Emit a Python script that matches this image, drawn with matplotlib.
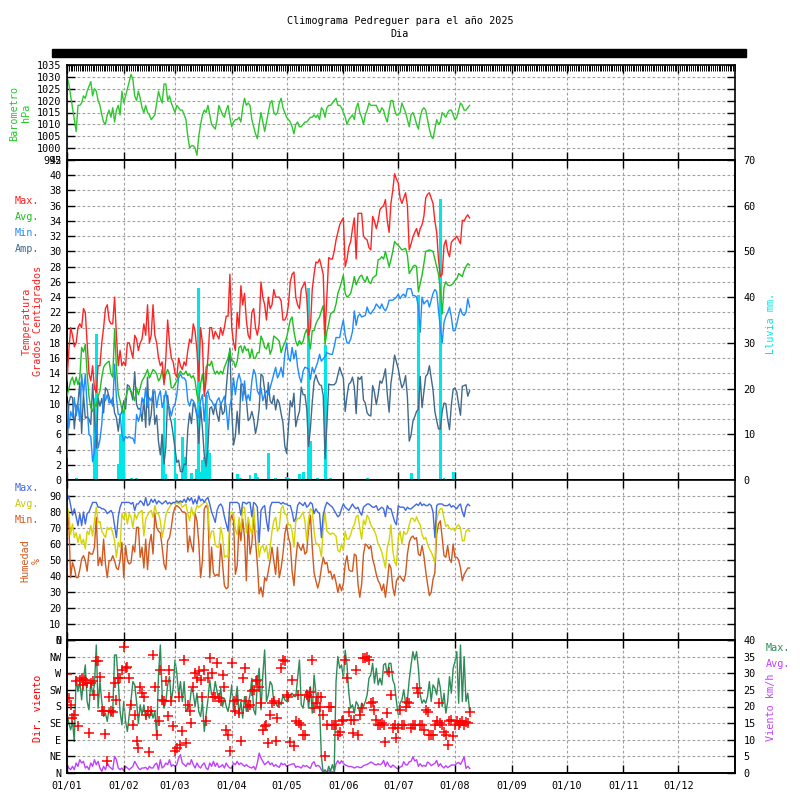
import matplotlib
matplotlib.use("Agg")
import matplotlib.pyplot as plt
from matplotlib.patches import Rectangle
import numpy as np

plt.rcParams['font.family'] = ['DejaVu Sans Mono']
plt.rcParams['font.size'] = 7.3
plt.rcParams['xtick.direction'] = 'in'
plt.rcParams['ytick.direction'] = 'in'

# daily values, 1 Jan .. 9 Aug 2025
pressure = [
    1030, 1027, 1022, 1017, 1012, 1007, 1018, 1018, 1019, 1022, 1021, 1024, 1026, 1028, 1022, 1025,
    1024, 1020, 1018, 1014, 1011, 1010, 1014, 1016, 1013, 1017, 1011, 1016, 1018, 1014, 1024,
    1019, 1022, 1025, 1028, 1031, 1029, 1022, 1020, 1024, 1021, 1017, 1015, 1018, 1015, 1014, 1012,
    1013, 1014, 1019, 1024, 1021, 1019, 1027, 1027, 1020, 1022, 1019, 1017,
    1015, 1018, 1017, 1016, 1016, 1014, 1012, 1005, 1000, 1001, 1001, 1000, 997, 1005, 1010, 1014,
    1016, 1015, 1018, 1014, 1010, 1009, 1008, 1012, 1018, 1016, 1014, 1013, 1016, 1018, 1013,
    1009, 1011, 1012, 1012, 1013, 1011, 1017, 1021, 1018, 1019, 1018, 1012, 1009, 1006, 1004, 1010,
    1015, 1011, 1007, 1011, 1015, 1019, 1020, 1015, 1014, 1015, 1019, 1021, 1017, 1015,
    1013, 1012, 1011, 1009, 1006, 1010, 1011, 1009, 1009, 1010, 1011, 1011, 1012, 1013, 1013, 1014,
    1013, 1014, 1012, 1017, 1016, 1013, 1017, 1018, 1018, 1019, 1020, 1021, 1018, 1018, 1017,
    1015, 1013, 1010, 1012, 1013, 1014, 1012, 1017, 1019, 1015, 1013, 1010, 1014, 1016, 1019, 1018,
    1018, 1018, 1018, 1016, 1015, 1017, 1016, 1013, 1011, 1016, 1020, 1020, 1016, 1014,
    1014, 1015, 1019, 1017, 1015, 1012, 1009, 1014, 1015, 1013, 1010, 1008, 1013, 1016, 1017, 1016,
    1012, 1008, 1005, 1004, 1008, 1012, 1010, 1011, 1015, 1014, 1013, 1015, 1016, 1016, 1014,
    1012, 1013, 1016, 1019, 1018, 1016, 1016, 1017, 1018,
]

temp_max = [
    13, 17, 20, 19, 17.5, 18, 20, 20.5, 20, 22.5,
    22, 18, 14, 13, 15, 12, 11.5, 15, 15, 18,
    20, 22.5, 23, 21, 20.5, 20.5, 24, 19, 15, 17,
    15, 15.5, 15, 18, 18, 17, 16, 19, 18.5, 17,
    18, 18.5, 20.5, 19, 23, 18, 19, 23, 19, 18,
    16, 15, 15.5, 12.5, 16, 21, 18, 16, 15.5, 14,
    13.5, 16, 15, 14.5, 15.5, 15, 17, 18.5, 18, 20.5,
    19.5, 17, 13, 20, 18, 11, 13, 16, 20, 20,
    18.5, 19.5, 19, 18.5, 20, 19, 20, 21.5, 21.5, 27,
    20, 18, 17, 22, 20, 25.5, 23, 24.5, 21, 19,
    18.5, 22, 22.5, 20, 19, 20.5, 26, 24, 23, 21,
    24, 22.5, 23, 25, 24, 24, 24, 23.5, 21, 21,
    21.5, 23, 26, 27, 27.3, 24, 23, 22.5, 25, 25.5,
    26, 24, 19, 20, 25, 27, 28.6, 28.5, 29, 28,
    27, 19, 24, 29.2, 29, 29, 30, 31.5, 32.5, 33.5,
    34, 34.4, 28, 29, 30.6, 31.3, 33, 34.4, 29, 35,
    35, 35, 32, 31.7, 31.5, 30.5, 30.2, 34.6, 34, 33,
    34, 35.5, 35.8, 36, 36.8, 34, 32.5, 36.3, 38, 40.2,
    39.5, 39, 37, 36.3, 37, 37.7, 36, 30.2, 31, 31.9,
    32.5, 33, 32, 33, 33.5, 34.6, 37, 37.5, 37.7, 37,
    36.3, 34, 32.5, 28.9, 26.7, 27, 30.8, 31.5, 30, 29.3,
    31.2, 31.5, 31.7, 32, 31.5, 31, 34.1, 34, 34.5, 34.8, 34.4,
]

temp_avg = [
    11, 12, 13, 13.5, 12.5, 13.5, 12.5, 13.5, 17.4, 16.8,
    17.8, 14, 11, 9.5, 9, 10, 9.7, 11, 11.7, 13.5,
    14.8, 15.2, 15.4, 15.6, 14, 13.5, 19.8, 14.8, 11.3, 10.4,
    9.3, 8.8, 10.6, 11.7, 12.1, 11.7, 11.2, 10.4, 12.1, 11.2,
    12.1, 13, 13.4, 13.9, 14.5, 13.4, 13.9, 14.5, 14.3, 13.9,
    13, 13.4, 14.5, 12.8, 13.9, 14.5, 13.9, 12.1, 12.1, 12.6,
    13, 13.9, 14.3, 13.9, 13.9, 14.3, 13.7, 13.9, 13.4, 13.7,
    13, 11.2, 10.4, 12.6, 13.9, 11.7, 14.8, 15.2, 15, 15.6,
    14.5, 13.9, 14.3, 13.9, 14.3, 13.9, 14.8, 15.4, 16, 17,
    15.6, 15.6, 14.8, 15.6, 17.4, 17.6, 16.7, 17.6, 17, 17.2,
    16, 17.2, 16, 16, 16.7, 16.7, 18.9, 18.3, 17.4, 17.2,
    18, 16.5, 17.2, 18.9, 18.7, 18.5, 18.2, 16.7, 17.5, 18,
    18.7, 19.8, 21, 21.4, 19.5, 18.2, 17.6, 18.3, 17.8, 18.2,
    19.2, 19.8, 18.5, 17.2, 19.6, 19.6, 20.5, 21, 21.4, 22.2,
    22.9, 17.8, 19.5, 20.5, 21.8, 22, 22.2, 23.1, 24.5, 25.2,
    26, 26.9, 24.5, 24, 24.2, 24.5, 25.5, 26.7, 25.6, 26.2,
    26.7, 26.9, 26.3, 26, 26.7, 26, 25.8, 26.5, 26.7, 26.9,
    28.9, 29, 29.3, 29, 30, 29, 28, 28.9, 30, 31.3,
    31, 30.8, 30.5, 30.2, 30.3, 30.4, 29.5, 27.1, 27.5, 28,
    28.2, 28, 24.7, 25.8, 26.9, 28.4, 30, 30.1, 30.2, 30.1,
    30, 29, 28, 27, 25, 21.8, 25.3, 26, 25.6, 25.5,
    25.6, 25.8, 26.2, 26.4, 27.1, 26.9, 26.7, 27.5, 28, 28.4, 28.2,
]

temp_min = [
    10, 6.8, 9, 8.2, 10.8, 8.4, 9.9, 7.7, 13.9, 11.2,
    13.9, 9.7, 6, 5.7, 2.4, 3.7, 7.3, 4.2, 5.3, 7.3,
    11.2, 10.4, 11.2, 10.1, 10.4, 9.7, 15.2, 10.8, 8.6, 8.6,
    6, 5.1, 5.7, 5.5, 5.7, 5.5, 5.5, 4.8, 8.6, 7.7,
    8.6, 10.8, 9.9, 12.1, 9.5, 10.8, 10.4, 11.2, 11.7, 9.5,
    11, 11.7, 9.5, 10.4, 11.7, 9.9, 9.5, 8.4, 9.5, 9.9,
    11.2, 13.4, 13.9, 13.4, 13.4, 13, 10.4, 9.7, 10.6, 10.4,
    9.9, 8.6, 8.2, 10.4, 11.2, 7.7, 11.2, 11.7, 10.6, 10.4,
    9.9, 9.5, 10.4, 10.8, 9.9, 10.4, 11, 9.5, 6.6, 9.7,
    10.8, 13.4, 11.2, 13, 13.9, 13, 10.4, 13, 10.4, 11.2,
    10.4, 13, 14.5, 13.9, 11.7, 11.2, 12.1, 10.4, 11.2, 11.7,
    11.2, 12.1, 13, 13.9, 14.8, 13.4, 13.9, 14.8, 13.5, 16.5,
    18, 16, 15.6, 17.4, 15.9, 17, 14.8, 13.5, 12.8, 14.3,
    14.8, 14.7, 14.6, 13.2, 14.8, 14.1, 14.8, 15.5, 16.5, 15.6,
    15.9, 16.2, 16.7, 16.6, 16.5, 16.5, 17.5, 18.7, 18.7, 18.7,
    20, 21, 19, 18, 18, 18.5, 19.5, 22.2, 20.3, 21.5,
    21.8, 21.4, 21.5, 21.6, 22.7, 22, 21.8, 22.2, 22.5, 23.1,
    22.8, 22.5, 23.1, 22.5, 22.2, 22.7, 23.6, 23.6, 23.6, 23.8,
    24, 24.4, 23.8, 24.2, 24.4, 24, 25.1, 25.1, 25.1, 24.2,
    24.2, 24, 22.7, 19.4, 24, 23.1, 23.4, 23.6, 22.7, 23.6,
    24.5, 25, 24.7, 22.2, 20, 18, 20.7, 21.5, 22, 22.7,
    21.4, 19.6, 19.6, 20.5, 21.6, 22.5, 21.8, 21.6, 22, 23.8, 22.7,
]

rain_days = [0, 5, 15, 16, 28, 29, 30, 31, 35, 38, 42, 46, 52, 53, 54, 59, 60, 63, 65, 68,
             71, 72, 73, 74, 75, 76, 77, 78, 93, 95, 100, 103, 104, 110, 114, 120, 121, 127,
             129, 132, 133, 137, 141, 144, 164, 188, 192, 204, 206, 211]
rain_mm = [5.3, 0.5, 18, 32, 3.5, 10, 8, 15, 0.5, 0.5, 0.3, 0.3, 10, 18.6, 1.3, 13.5, 1.3, 9.5, 5, 1.5,
           2.5, 42, 1.8, 4.4, 5, 18.6, 6.5, 6, 1.3, 0.4, 1, 1.5, 0.7, 6, 0.4, 0.7, 0.5, 1.3,
           1.8, 42, 8.5, 0.4, 29.5, 0.4, 0.4, 1.5, 40.5, 61.5, 0.4, 1.8]

hum_max = [
    87, 90, 84, 78, 82, 77, 71.5, 79, 71.5, 80,
    72.5, 79, 80, 83, 86, 86, 86, 83, 83, 82,
    82, 81, 79, 80, 81, 79, 71.5, 64, 77, 83,
    86, 86, 86, 86, 86, 85, 86, 81, 85, 85,
    87, 86, 84, 89, 84, 85, 88, 86, 88, 85,
    87, 86, 85, 86, 87, 85, 86, 85, 86, 86,
    87, 86, 87, 86, 88, 86, 89, 87, 89, 85,
    88, 85, 90, 87, 88, 86, 88, 89, 85, 80,
    77, 73.5, 81, 84, 85, 83, 77, 72.5, 68, 86,
    86, 86, 86, 86, 85, 78, 86, 86, 85, 86,
    86, 77, 86, 85, 83, 61, 81, 83, 84, 74.5,
    68, 83, 86, 86, 86, 86, 86,
    85, 86, 85, 85, 84, 84, 80, 74, 76, 84,
    86, 85, 84, 86, 83, 84, 86, 85, 79, 82,
    80, 79, 64, 78, 83, 86, 85, 84, 83, 81,
    79, 77, 78, 82, 85, 83, 82, 81, 83, 85,
    83, 82, 83, 80, 78, 83, 84, 85, 85, 84,
    83, 83, 84, 81, 82, 83, 82, 77, 84, 82,
    82, 78, 74, 72, 84, 83, 83, 83, 81, 83,
    82, 82, 83, 84, 85, 84, 86, 84, 85, 84,
    84, 85, 84, 80, 64, 84, 85, 85, 85, 84,
    84, 84, 85, 83, 84, 83, 82, 84, 85, 80,
    77, 83, 85, 84,
]

hum_avg = [
    84, 79, 66, 72.5, 64, 67, 61, 66, 60, 63,
    57, 68, 66, 71.5, 65, 74.5, 83, 73.5, 74, 68,
    66, 64, 70.4, 69, 70.4, 67, 62, 51.7, 61, 58,
    79, 75.6, 80, 72.5, 79, 76.7, 70.4, 79, 75.6, 79,
    80, 81, 65, 75.6, 78, 80, 81, 76.7, 84, 79,
    79, 74.5, 64, 70.4, 78, 81, 83, 85, 86, 85,
    86, 85, 86, 83, 84, 85, 79, 74.5, 83, 78,
    80, 84, 83, 84, 85, 86, 86, 84, 63, 68,
    68, 60, 58, 58, 70.4, 65, 51.7, 52.7, 51.7, 79,
    80, 79, 69, 66, 76.7, 68, 83, 83, 67, 76.7,
    70.4, 66, 83, 68, 68, 51.7, 58, 59, 55, 59,
    50.6, 58, 68, 74.5, 76.7, 68, 70.4,
    82, 84, 79, 78, 72, 72, 68, 58, 74, 76,
    76, 78, 80, 74, 62, 76, 82, 81, 68, 60,
    60, 58, 52, 70, 80, 68, 67, 66, 67, 66,
    65, 56, 55, 60, 56, 68, 63, 63, 66, 70,
    72, 77, 78, 70, 63, 75, 72, 78, 76, 72,
    70, 68, 65, 60, 58, 55, 50, 45, 58, 62,
    72, 56, 49, 46.5, 64, 68, 60, 68, 66, 67,
    72, 76, 76, 74, 77, 74, 72, 66, 63, 64,
    60, 57, 55, 52, 48.5, 75, 80, 82, 82, 76,
    71, 72, 70, 69, 70, 68, 71, 72, 70, 62,
    62, 68, 69, 68,
]

hum_min = [
    83, 72.5, 39, 48.5, 45, 39, 39, 44, 50.6, 52.7,
    49.6, 43, 55, 53.7, 53.7, 58, 76.7, 46.5, 51.7, 46.5,
    63, 47.5, 39, 49.6, 49.6, 52.7, 49.6, 45, 44, 49.6,
    61, 39, 59, 49.6, 47.5, 48.5, 59, 55, 70.4, 70.4,
    51.7, 58, 45, 63, 44, 60, 66, 53.7, 79, 70.4,
    68, 67, 58, 47.5, 44, 62, 64, 70.4, 79, 83,
    84, 83, 82, 80, 80, 79, 55, 65, 59, 55,
    79, 74.5, 61, 39, 49.6, 82, 84, 82, 39, 58,
    42, 40, 41, 40, 60, 47.5, 34, 32, 33, 74,
    78, 74.5, 41, 46.5, 72, 62, 75.6, 64, 37, 74.5,
    53.7, 60, 78, 62, 47.5, 28.8, 33, 27, 39, 37,
    43, 49.6, 58, 49.6, 41, 58, 39,
    45, 53.7, 66, 72, 64, 60, 43, 34, 49.6, 61,
    58, 56, 60, 53.7, 55, 70, 78, 58, 42, 37,
    32.5, 37, 45, 51.7, 47.5, 48.5, 42, 43, 38, 41,
    36, 29.8, 35, 30.8, 35, 47.5, 52.7, 44, 43, 43,
    53.7, 52.7, 35, 26.7, 35, 53.7, 60, 59, 57, 59,
    50.6, 46.5, 41, 37, 35, 30.8, 35, 26.7, 36, 47.5,
    45, 33, 27.7, 37, 39, 40, 38, 36.7, 41, 53.7,
    61, 64, 65, 63, 64, 53.7, 52.7, 59, 52.7, 43,
    35, 27.7, 29.8, 38, 42, 66, 72.5, 74.5, 64, 52.7,
    51.7, 59, 50.6, 48.5, 60, 51.7, 51.7, 50, 45, 37,
    41, 43, 45, 45,
]

wind_dir = [
    267, 203, 185, 149, 158, 248, 126, 252, 256, 239,
    252, 243, 108, 243, 248, 212, 302, 302, 261, 167,
    167, 105, 32, 207, 167, 165, 243, 198, 257, 257,
    279, 342, 284, 288, 257, 185, 131, 158, 87, 67,
    234, 216, 207, 158, 167, 57, 167, 320, 234, 104,
    140, 279, 198, 194, 248, 153, 279, 194, 126, 60,
    68, 207, 77, 113, 306, 81, 185, 167, 135, 234,
    270, 257, 275, 252, 207, 279, 140, 257, 311, 270,
    207, 207, 297, 203, 194, 266, 234, 117, 104, 60,
    297, 194, 167, 198, 162, 87, 257, 284, 194, 180,
    185, 221, 225, 248, 252, 234, 189, 117, 126, 131,
    81, 158, 189, 194, 86, 149, 189, 284, 306, 302,
    212, 207, 85, 252, 72, 140, 212, 135, 130, 103,
    103, 212, 207, 220, 306, 175, 189, 207, 180, 207,
    157, 45, 130, 180, 180, 130, 130, 130, 103, 112,
    140, 144, 306, 256, 166, 144, 108, 144, 279, 103,
    157, 177, 310, 310, 315, 306, 189, 193, 171, 144,
    130, 130, 135, 130, 85, 162, 274, 211, 121, 130,
    94, 121, 171, 130, 130, 180, 193, 189, 121, 130,
    130, 229, 216, 130, 130, 117, 171, 166, 103, 103,
    103, 130, 140, 189, 135, 130, 112, 103, 76, 140,
    144, 99, 130, 140, 130, 135, 140, 130, 138, 135, 166,
]

wind_max = [
    18, 15, 13, 15.5, 9.5, 29, 24.5, 27.5, 22, 28.5,
    32.5, 21.5, 19, 27.5, 23.5, 26.5, 38.5, 19.5, 27.5, 21.5,
    17, 18, 15.5, 19.5, 17, 18.5, 35.5, 35.5, 27.5, 18.5,
    14.5, 21.5, 15.5, 12.5, 17.5, 22, 27.5, 26.5, 21.5, 15,
    20.5, 17.5, 20.5, 16.5, 18, 16.5, 19, 16.5, 18.5, 11.5,
    29.5, 38.5, 23.5, 19.5, 21.5, 26.5, 29, 21.5, 25.5, 34,
    30, 23.5, 27.5, 21.5, 27.5, 18.5, 19.5, 20.5, 25.5, 24,
    20, 24, 18.5, 17, 21.5, 12.5, 17.5, 22, 28, 23.5,
    23.5, 27.5, 24.5, 21.5, 25.5, 20, 22.5, 20, 18.5, 21.5,
    26.5, 18.5, 21.5, 26, 17.5, 21.5, 16.5, 23, 18.5, 21,
    23.5, 28.5, 19, 17.5, 26.5, 31.5, 19, 29.5, 37, 21.5,
    23.5, 27.5, 26.5, 21.5, 21, 20, 21.5, 20.5, 23.5, 22,
    21.5, 22.5, 23.5, 24, 23, 23, 28.5, 34, 20.5, 19.5,
    23.5, 25, 19.5, 26, 18, 29.5, 24, 20, 19.5, 5,
    0, 1, 0, 2, 0.5, 2.5, 0.5, 27.5, 35, 31.5,
    32.5, 28.5, 36.9, 32.5, 24, 19.5, 20.5, 18, 21.5, 20.5,
    18, 21, 20, 21.5, 23.5, 28.5, 29.5, 33, 27, 31.5,
    26.5, 28.5, 26.5, 32.5, 33, 29.5, 33, 33, 28, 26.5,
    21.5, 17.5, 21, 22, 25, 21, 22, 28, 32.5, 36.5,
    34, 36.5, 31.5, 23.5, 21, 22, 21, 23, 27.5, 21.5,
    26.5, 25.5, 23.5, 28.5, 25.5, 20, 24, 18, 21.5, 29,
    24, 31.5, 33.5, 36.5, 21, 38.5, 21.5, 35, 21.5, 24, 18.5,
]

wind_avg = [
    2.5, 1.5, 1, 2, 1, 3, 2, 4, 3, 3.5,
    1.5, 2, 1, 3, 2, 4, 2.5, 3.5, 1.5, 0.5,
    2, 1, 3, 2, 1.5, 1, 5, 4, 1.5, 1,
    1.5, 0.7, 2, 1.5, 1, 1.5, 2, 3.5, 2.5, 1.5,
    1, 1.5, 1.5, 1.7, 1, 2, 1.5, 1.5, 2.5, 3,
    1, 4, 1.5, 2, 3, 2.5, 4, 2, 2.5, 2,
    2.5, 4.5, 5.5, 3, 2.5, 2, 3, 2.5, 4, 2.5,
    1.5, 3, 2, 1.5, 2.5, 3, 1.5, 1, 3, 2,
    3.5, 2, 3, 1.7, 2, 2.5, 1.5, 3, 2, 1.5,
    1.5, 3, 2.5, 3.5, 2.5, 3, 2.5, 2, 2.5, 2,
    1.7, 1.5, 2, 1, 3, 6, 4.5, 3.5, 2.5, 3,
    3.5, 2.5, 3, 2, 2.5, 2, 1.7,
    3, 2.5, 2.8, 2, 2.3, 2.5, 2.7, 2.8, 1.7, 2,
    1.8, 1.5, 2.3, 2, 2.2, 1.7, 1.4, 2.9, 3.4, 2,
    2.3, 2, 1, 0.2, 0, 0.4, 0.8, 0.2, 0.4, 0.1,
    2.8, 3.7, 2.8, 3.7, 2.9, 2.4, 2.2, 1.9, 2, 1.8,
    1.5, 1.8, 1.9, 1.6, 1.7, 2.2, 2.4, 2.6, 2.9, 3.3,
    3, 2.6, 2.4, 2.8, 2.5, 2.8, 3.8, 2, 3.3, 2.2,
    1.7, 2.4, 2, 1.5, 1.2, 1.8, 2, 3.4, 2.5, 2.4,
    3.4, 3.5, 4.9, 3.6, 4, 2, 2.8, 2, 2.3, 2,
    3.3, 2.9, 2.2, 2.6, 2.9, 3.8, 2, 2.8, 2, 1.5,
    2.2, 1.6, 2, 2.4, 2.4, 2.4, 2.9, 3.2, 2.6, 3.6,
    4.9, 1.4, 2, 1.4,
]

month_starts = [0, 31, 59, 90, 120, 151, 181, 212, 243, 273, 304, 334]
month_labels = ['01/01', '01/02', '01/03', '01/04', '01/05', '01/06',
                '01/07', '01/08', '01/09', '01/10', '01/11', '01/12']
dir_ticks = [0, 45, 90, 135, 180, 225, 270, 315, 360]
dir_labels = ['N', 'NE', 'E', 'SE', 'S', 'SW', 'W', 'NW', 'N']

series = dict(pressure=pressure, temp_max=temp_max, temp_avg=temp_avg, temp_min=temp_min,
              hum_max=hum_max, hum_avg=hum_avg, hum_min=hum_min, wind_dir=wind_dir,
              wind_max=wind_max, wind_avg=wind_avg)
lens = {k: len(v) for k, v in series.items()}
if len(set(lens.values())) != 1:
    raise ValueError(str(lens))

days = np.arange(len(pressure))
temp_amp = np.array(temp_max) - np.array(temp_min)

fig = plt.figure(figsize=(8, 8), dpi=100)


def rect(x0, y0, x1, y1):
    return [x0 / 800, 1 - y1 / 800, (x1 - x0) / 800, (y1 - y0) / 800]


GRID = dict(color='#a0a0a0', linestyle=(0, (2.5, 2)), linewidth=0.8)
TL = 5.5


def base(ax):
    ax.set_xlim(0, 365)
    ax.set_xticks(month_starts)
    ax.set_xticklabels([])
    ax.tick_params(axis='x', which='major', top=True, bottom=True, length=TL, width=1)
    ax.tick_params(axis='y', length=TL, width=1, pad=4)
    for s in ax.spines.values():
        s.set_linewidth(1.2)


# barometer
ax_p = fig.add_axes(rect(67, 65, 735, 160))
base(ax_p)
ax_p.grid(True, **GRID)
ax_p.plot(days, pressure, color='#2ec82e', lw=1)
ax_p.set_ylim(995, 1035)
ax_p.set_yticks(range(995, 1036, 5))
ax_p.tick_params(axis='y', right=True)
ax_p.set_xticks(np.arange(0, 366), minor=True)
ax_p.tick_params(axis='x', which='minor', top=True, bottom=False, length=4.5, width=0.7)

# temperature + rain
ax_t = fig.add_axes(rect(67, 160, 735, 480))
base(ax_t)
ax_t.grid(True, **GRID)
ax_t.set_ylim(0, 42)
ax_t.set_yticks(range(0, 43, 2))
ax_r = ax_t.twinx()
ax_r.bar(rain_days, rain_mm, width=1.6, color='#00e6e6', linewidth=0)
ax_r.set_ylim(0, 70)
ax_r.set_yticks(range(0, 71, 10))
ax_r.tick_params(axis='y', length=TL, width=1, pad=6)
for s in ax_r.spines.values():
    s.set_linewidth(1.2)
ax_tl = fig.add_axes(rect(67, 160, 735, 480), sharex=ax_t, sharey=ax_t)
ax_tl.axis('off')
ax_tl.patch.set_visible(False)
ax_tl.plot(days, temp_amp, color='#40698c', lw=1)
ax_tl.plot(days, temp_min, color='#1e8cff', lw=1)
ax_tl.plot(days, temp_avg, color='#1fbf1f', lw=1)
ax_tl.plot(days, temp_max, color='#ff2424', lw=1)

# humidity
ax_h = fig.add_axes(rect(67, 480, 735, 640))
base(ax_h)
ax_h.grid(True, **GRID)
ax_h.plot(days, hum_min, color='#d2581e', lw=1)
ax_h.plot(days, hum_avg, color='#d4d400', lw=1)
ax_h.plot(days, hum_max, color='#4169e1', lw=1)
ax_h.set_ylim(0, 100)
ax_h.set_yticks(range(0, 100, 10))
ax_h.tick_params(axis='y', right=True)

# wind
ax_w = fig.add_axes(rect(67, 640, 735, 773))
base(ax_w)
ax_ws = ax_w.twinx()
ax_ws.set_ylim(0, 40)
ax_ws.set_yticks(range(0, 41, 5))
ax_ws.tick_params(axis='y', length=TL, width=1, pad=6)
ax_ws.grid(True, axis='y', **GRID)
ax_ws.plot(days, wind_avg, color='#c040ff', lw=1)
ax_ws.plot(days, wind_max, color='#2e8b57', lw=1)
for s in ax_ws.spines.values():
    s.set_linewidth(1.2)
ax_w.set_zorder(ax_ws.get_zorder() + 1)
ax_w.patch.set_visible(False)
ax_w.grid(True, axis='x', **GRID)
ax_w.plot(days, wind_dir, linestyle='none', marker='+', color='#ff0000', ms=7, mew=1.1)
ax_w.set_ylim(0, 360)
ax_w.set_yticks(dir_ticks)
ax_w.set_yticklabels(dir_labels)
ax_w.set_xticklabels(month_labels)
ax_w.tick_params(axis='x', pad=6)

# titles and labels
fig.text(0.5, 1 - 21 / 800, 'Climograma Pedreguer para el año 2025', ha='center', va='center')
fig.text(0.5, 1 - 34 / 800, 'Dia', ha='center', va='center')
fig.patches.append(Rectangle((52 / 800, 1 - 57 / 800), 694 / 800, 8 / 800,
                             transform=fig.transFigure, color='black'))


def side(x, y, s, c, rot=90):
    fig.text(x / 800, 1 - y / 800, s, color=c, rotation=rot, ha='center', va='center',
             multialignment='center', linespacing=1.15)


def leg(x, y, s, c):
    fig.text(x / 800, 1 - y / 800, s, color=c, ha='left', va='center')


side(20, 113, 'Barometro\nhPa', '#22cc22')
side(32, 321, 'Temperatura\nGrados Centigrados', '#ff2020')
leg(15, 201, 'Max.', '#ff2020')
leg(15, 217, 'Avg.', '#1fbf1f')
leg(15, 233, 'Min.', '#1e8cff')
leg(15, 249, 'Amp.', '#40698c')
side(771, 323, 'Lluvia mm.', '#00e6e6')
leg(15, 488, 'Max.', '#4169e1')
leg(15, 504, 'Avg.', '#c8c800')
leg(15, 520, 'Min.', '#d2581e')
side(31, 561, 'Humedad\n%', '#d2581e')
side(38, 708, 'Dir. viento', '#ff0000')
leg(766, 648, 'Max.', '#2e8b57')
leg(766, 664, 'Avg.', '#c040ff')
side(771, 707, 'Viento km/h', '#c040ff')

fig.savefig('out.png', dpi=100)
